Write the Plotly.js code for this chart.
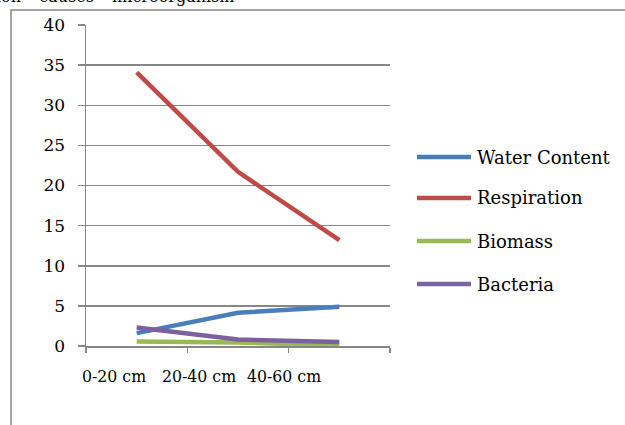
<!DOCTYPE html>
<html>
<head>
<meta charset="utf-8">
<script src="https://cdn.plot.ly/plotly-3.0.1.min.js"></script>
<style>
  html, body { margin: 0; padding: 0; background: #fff; }
  #chart { width: 625px; height: 425px; }
</style>
</head>
<body>
<div id="chart"></div>
<script>
// Soil depth layers
const depths = ['0-20 cm', '20-40 cm', '40-60 cm'];

// Measured series per depth
const seriesNames = ['Water Content', 'Respiration', 'Biomass', 'Bacteria'];
const waterContent = [1.6, 4.15, 4.9];
const respiration = [34.1, 21.7, 13.2];
const biomass = [0.55, 0.45, 0.05];
const bacteria = [2.3, 0.8, 0.5];

const seriesColors = ['#4a7ebb', '#be4b48', '#98b954', '#7d60a0'];
const yTicks = [0, 5, 10, 15, 20, 25, 30, 35, 40];

const font = 'DejaVu Serif';
const fontNarrow = 'DejaVu Serif Condensed, DejaVu Serif';
const grey = '#878787';

const values = [waterContent, respiration, biomass, bacteria];
const traces = values.map((v, i) => ({
  type: 'scatter',
  mode: 'lines',
  x: depths,
  y: v,
  name: seriesNames[i],
  line: { color: seriesColors[i], width: 4.5 },
  showlegend: false,
  hoverinfo: 'x+y+name'
}));

// Plot area in pixels: left 86, right 390, top 25, bottom 346
const W = 625, H = 425;
const L = 86, R = 390, T = 25, B = 346;
const px = x => (x - L) / (R - L);
const py = y => (B - y) / (B - T);

const shapes = [
  // outer chart frame (runs off the right and bottom edges)
  { type: 'rect', xref: 'paper', yref: 'paper',
    x0: px(11), x1: px(W + 20), y0: py(H + 20), y1: py(10),
    line: { color: grey, width: 1.5 }, fillcolor: 'rgba(0,0,0,0)', layer: 'below' }
];
const annotations = [
  // heading line above the frame
  { xref: 'paper', yref: 'paper', x: px(237), y: py(-3),
    xanchor: 'right', yanchor: 'middle', showarrow: false,
    text: 'ion \u2013 causes \u2013 microorganism',
    font: { family: font, size: 16, color: '#000' } }
];

// depth labels under the axis, set on a slightly tighter pitch than the categories
const labelCenters = [114, 199, 284];
depths.forEach((d, i) => {
  annotations.push({ xref: 'paper', yref: 'paper', x: px(labelCenters[i]), y: py(376),
    xanchor: 'center', yanchor: 'middle', showarrow: false, text: d,
    font: { family: fontNarrow, size: 17.5, color: '#000' } });
});

// legend: line sample plus label for each series
const legendRows = [157, 198, 241, 284];
seriesNames.forEach((name, i) => {
  shapes.push({ type: 'line', xref: 'paper', yref: 'paper',
    x0: px(417), x1: px(471), y0: py(legendRows[i]), y1: py(legendRows[i]),
    line: { color: seriesColors[i], width: 4.5 } });
  annotations.push({ xref: 'paper', yref: 'paper', x: px(475), y: py(legendRows[i]),
    xanchor: 'left', yanchor: 'middle', showarrow: false, text: name,
    font: { family: font, size: 18, color: '#000' } });
});

const layout = {
  width: W, height: H,
  margin: { l: L, r: W - R, t: T, b: H - B, pad: 0 },
  paper_bgcolor: '#fff', plot_bgcolor: '#fff',
  font: { family: font, size: 17, color: '#000' },
  showlegend: false,
  xaxis: {
    type: 'category',
    range: [-0.5, 2.5],
    showgrid: false, zeroline: false,
    showline: true, linecolor: grey, linewidth: 1.5,
    ticks: 'outside', tickson: 'boundaries', ticklen: 5, tickwidth: 1.5, tickcolor: grey,
    showticklabels: false,
    fixedrange: true
  },
  yaxis: {
    range: [0, 40],
    tickvals: yTicks,
    showgrid: true, gridcolor: grey, gridwidth: 1.5,
    zeroline: false,
    showline: true, linecolor: grey, linewidth: 1.5,
    ticks: 'outside', ticklen: 7, tickwidth: 1.5, tickcolor: grey,
    tickfont: { family: font, size: 17, color: '#000' },
    ticklabelstandoff: 9,
    fixedrange: true
  },
  shapes: shapes,
  annotations: annotations
};

Plotly.newPlot('chart', traces, layout, { displayModeBar: false, staticPlot: true });
</script>
</body>
</html>
